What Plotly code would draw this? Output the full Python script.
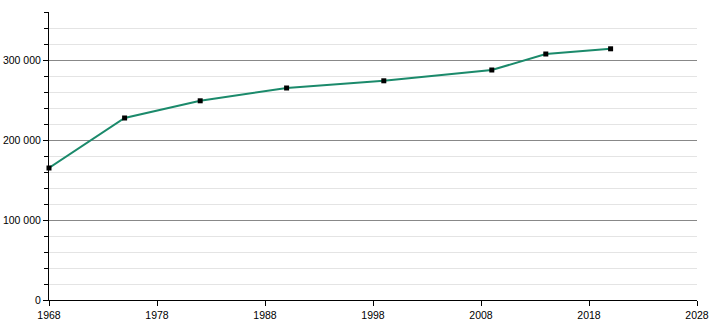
import plotly.graph_objects as go

years = [1968, 1975, 1982, 1990, 1999, 2009, 2014, 2020]
population = [165000, 227500, 249000, 265000, 274000, 287500, 307500, 314000]

x_ticks = [1968, 1978, 1988, 1998, 2008, 2018, 2028]
y_ticks = [0, 100000, 200000, 300000]
y_tick_labels = ["0", "100 000", "200 000", "300 000"]

fig = go.Figure()
fig.add_trace(go.Scatter(
    x=years, y=population, mode="lines+markers",
    line=dict(color="#1b8a6b", width=2),
    marker=dict(symbol="square", size=5, color="black"),
    hoverinfo="x+y",
    cliponaxis=False,
))

font = dict(family="Liberation Sans", size=10.5, color="black")

fig.update_layout(
    width=710, height=320,
    margin=dict(l=49, r=13, t=12, b=20, autoexpand=False),
    plot_bgcolor="white", paper_bgcolor="white",
    showlegend=False,
    font=font,
)
fig.update_xaxes(
    range=[1968, 2028], tickvals=x_ticks, ticktext=[str(v) for v in x_ticks],
    showgrid=False, zeroline=False,
    showline=True, linecolor="black", linewidth=1,
    ticks="outside", ticklen=5, tickcolor="black",
    tickfont=font, automargin=False,
)
fig.update_yaxes(
    range=[0, 360000], tickvals=y_ticks, ticktext=y_tick_labels,
    showgrid=True, gridcolor="#888888", gridwidth=1,
    zeroline=False,
    showline=True, linecolor="black", linewidth=1,
    ticks="outside", ticklen=5, tickcolor="black",
    tickfont=font, automargin=False,
    minor=dict(dtick=20000, tick0=0, showgrid=True, gridcolor="#e4e4e4",
               ticks="outside", ticklen=4, tickcolor="black"),
)

fig.write_html("out.html")
